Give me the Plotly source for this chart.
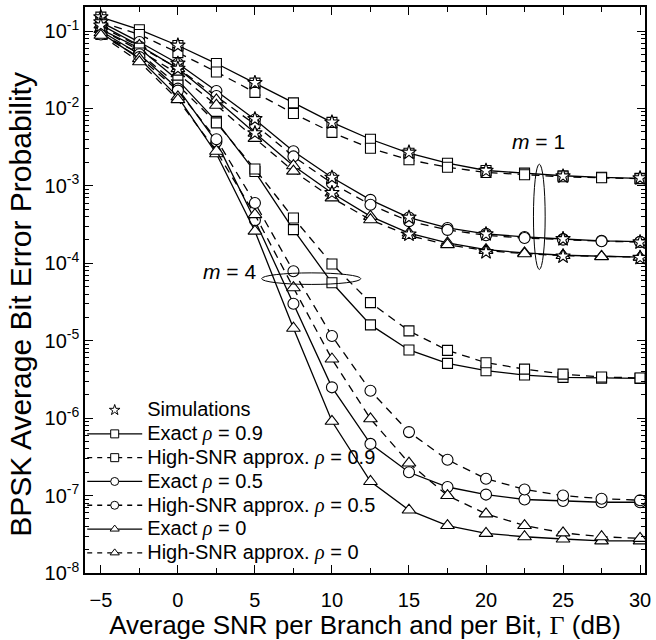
import plotly.graph_objects as go

# ---------------- data ----------------
snr_db = [-5, -2.5, 0, 2.5, 5, 7.5, 10, 12.5, 15, 17.5, 20, 22.5, 25, 27.5, 30]

# m = 1
m1_exact_rho09 = [0.151, 0.104, 0.065, 0.038, 0.0212, 0.0118, 0.0066, 0.0040, 0.00264, 0.00196,
                  0.00158, 0.00146, 0.00135, 0.00129, 0.00125]
m1_approx_rho09 = [0.130, 0.090, 0.0526, 0.0296, 0.0161, 0.0086, 0.0049, 0.00306, 0.00217, 0.00174,
                   0.00149, 0.00139, 0.00131, 0.00127, 0.00124]
m1_exact_rho05 = [0.130, 0.072, 0.038, 0.0168, 0.0072, 0.0028, 0.00128, 0.00066, 0.00039, 0.000286,
                  0.00024, 0.000219, 0.000206, 0.000195, 0.00019]
m1_approx_rho05 = [0.115, 0.063, 0.033, 0.0145, 0.0062, 0.0024, 0.00108, 0.00057, 0.00035, 0.00027,
                   0.00023, 0.000212, 0.000202, 0.000193, 0.000188]
m1_exact_rho0 = [0.120, 0.065, 0.0327, 0.0129, 0.0048, 0.00182, 0.00081, 0.000404, 0.000246, 0.000183,
                 0.00015, 0.000136, 0.000127, 0.000123, 0.00012]
m1_approx_rho0 = [0.105, 0.056, 0.028, 0.011, 0.0041, 0.00155, 0.0007, 0.000365, 0.000228, 0.000174,
                  0.000146, 0.000133, 0.000126, 0.000122, 0.00012]

# m = 4
m4_exact_rho09 = [0.105, 0.060, 0.0232, 0.0068, 0.00153, 0.000272, 5.6e-5, 1.6e-5, 7.6e-6, 5.1e-6,
                  4.1e-6, 3.6e-6, 3.36e-6, 3.29e-6, 3.26e-6]
m4_approx_rho09 = [0.090, 0.052, 0.020, 0.0065, 0.00165, 0.000384, 9.8e-5, 3.1e-5, 1.34e-5, 7.5e-6,
                   5.2e-6, 4.3e-6, 3.7e-6, 3.4e-6, 3.3e-6]
m4_exact_rho05 = [0.100, 0.050, 0.018, 0.0037, 0.00036, 3.0e-5, 2.5e-6, 4.65e-7, 2.0e-7, 1.29e-7,
                  1.03e-7, 8.9e-8, 8.5e-8, 8.2e-8, 8.2e-8]
m4_approx_rho05 = [0.090, 0.046, 0.017, 0.0040, 0.0006, 7.9e-5, 1.15e-5, 2.26e-6, 6.6e-7, 2.9e-7,
                   1.65e-7, 1.2e-7, 1.0e-7, 9.1e-8, 8.7e-8]
m4_exact_rho0 = [0.095, 0.044, 0.0141, 0.0026, 0.00026, 1.45e-5, 9.1e-7, 1.52e-7, 6.5e-8, 4.1e-8,
                 3.25e-8, 2.94e-8, 2.75e-8, 2.6e-8, 2.6e-8]
m4_approx_rho0 = [0.088, 0.040, 0.013, 0.0028, 0.000425, 4.83e-5, 5.8e-6, 9.8e-7, 2.63e-7, 1.0e-7,
                  5.8e-8, 4.1e-8, 3.3e-8, 2.94e-8, 2.8e-8]

# simulations (m = 1)
sim_snr_db = [-5, 0, 5, 10, 15, 20, 25, 30]
sim_m1_rho09 = [0.151, 0.065, 0.0214, 0.0066, 0.0027, 0.00157, 0.00133, 0.00126]
sim_m1_rho05 = [0.130, 0.038, 0.0073, 0.00128, 0.00039, 0.000238, 0.000206, 0.000187]
sim_m1_rho0 = [0.118, 0.0327, 0.0048, 0.00081, 0.000236, 0.000140, 0.000123, 0.000118]

x_tick_vals = [-5, 0, 5, 10, 15, 20, 25, 30]
y_tick_vals = [1e-8, 1e-7, 1e-6, 1e-5, 1e-4, 1e-3, 1e-2, 1e-1]
y_tick_text = ["10<sup>-8</sup>", "10<sup>-7</sup>", "10<sup>-6</sup>", "10<sup>-5</sup>",
               "10<sup>-4</sup>", "10<sup>-3</sup>", "10<sup>-2</sup>", "10<sup>-1</sup>"]

# ---------------- figure ----------------
FONT = "Liberation Sans, Arial, sans-serif"
RHO = "<i><span style=\"font-family:'Liberation Serif'\">ρ</span></i>"
GAMMA = "<span style=\"font-family:'Liberation Serif'\">Γ</span>"


def big(t):
    return f'<span style="font-size:20px">{t}</span>'


fig = go.Figure()

curves = [
    (m1_exact_rho09, "square", "solid"),
    (m1_approx_rho09, "square", "8px,6px"),
    (m1_exact_rho05, "circle", "solid"),
    (m1_approx_rho05, "circle", "8px,6px"),
    (m1_exact_rho0, "triangle-up", "solid"),
    (m1_approx_rho0, "triangle-up", "8px,6px"),
    (m4_exact_rho09, "square", "solid"),
    (m4_approx_rho09, "square", "8px,6px"),
    (m4_exact_rho05, "circle", "solid"),
    (m4_approx_rho05, "circle", "8px,6px"),
    (m4_exact_rho0, "triangle-up", "solid"),
    (m4_approx_rho0, "triangle-up", "8px,6px"),
]
msize = {"square": 10, "circle": 11, "triangle-up": 12}
for vals, sym, dash in curves:
    fig.add_trace(go.Scatter(
        x=snr_db, y=vals, mode="lines+markers", showlegend=False,
        line=dict(color="black", width=1.3, dash=dash),
        marker=dict(symbol=sym, size=msize[sym], color="white",
                    line=dict(color="black", width=1.1)),
    ))

for vals in (sim_m1_rho09, sim_m1_rho05, sim_m1_rho0):
    fig.add_trace(go.Scatter(
        x=sim_snr_db, y=vals, mode="markers", showlegend=False,
        marker=dict(symbol="star", size=11, color="white",
                    line=dict(color="black", width=1.1)),
    ))

# legend-only entries (smaller symbols as in the reference)
legend_items = [
    ("Simulations", "star", None, "markers"),
    (f"Exact {RHO} = 0.9", "square", "solid", "lines+markers"),
    (f"High-SNR approx. {RHO} = 0.9", "square", "5px,5px", "lines+markers"),
    (f"Exact {RHO} = 0.5", "circle", "solid", "lines+markers"),
    (f"High-SNR approx. {RHO} = 0.5", "circle", "5px,5px", "lines+markers"),
    (f"Exact {RHO} = 0", "triangle-up", "solid", "lines+markers"),
    (f"High-SNR approx. {RHO} = 0", "triangle-up", "5px,5px", "lines+markers"),
]
for name, sym, dash, mode in legend_items:
    fig.add_trace(go.Scatter(
        x=[None], y=[None], mode=mode, name=big(name),
        line=dict(color="black", width=1.3, dash=dash or "solid"),
        marker=dict(symbol=sym, size=8, color="white", line=dict(color="black", width=1)),
    ))

# ellipses grouping the curves (data coordinates)
fig.add_shape(type="circle", xref="x", yref="y", x0=23.08, x1=23.84,
              y0=10 ** -4.08, y1=10 ** -2.72, line=dict(color="black", width=1))
fig.add_shape(type="circle", xref="x", yref="y", x0=5.44, x1=11.87,
              y0=10 ** -4.273, y1=10 ** -4.124, line=dict(color="black", width=1))

fig.add_annotation(x=23.4, y=-2.43, xref="x", yref="y", text="<i>m</i> = 1", showarrow=False,
                   font=dict(size=21, color="black", family=FONT))
fig.add_annotation(x=3.35, y=-4.10, xref="x", yref="y", text="<i>m</i> = 4", showarrow=False,
                   font=dict(size=21, color="black", family=FONT))

# y-axis title (placed slightly below the plot centre, as in the reference)
fig.add_annotation(x=-0.115, y=0.475, xref="paper", yref="paper", textangle=-90,
                   xanchor="center", yanchor="middle",
                   text="BPSK Average Bit Error Probability", showarrow=False,
                   font=dict(size=30, color="black", family=FONT))

fig.update_layout(
    width=656, height=640,
    margin=dict(l=85, r=9, t=5, b=67),
    paper_bgcolor="white", plot_bgcolor="white",
    font=dict(family=FONT, color="black", size=20),
    legend=dict(x=-0.005, y=0.005, xanchor="left", yanchor="bottom",
                bgcolor="rgba(0,0,0,0)", borderwidth=0, itemwidth=55,
                font=dict(size=16, family=FONT, color="black"),
                tracegroupgap=0),
)
fig.update_xaxes(
    range=[-6.03, 30.32], tickvals=x_tick_vals, ticks="inside", ticklen=8, tickwidth=1.2,
    tickcolor="black", showline=True, linecolor="black", linewidth=1.5, mirror="allticks",
    showgrid=False, zeroline=False, tickfont=dict(size=20), ticklabelstandoff=8,
    minor=dict(ticks="inside", ticklen=5, tickwidth=1.2, tickcolor="black", dtick=2.5, showgrid=False),
    title=dict(text=f"Average SNR per Branch and per Bit, {GAMMA} (dB)", font=dict(size=26), standoff=1),
)
fig.update_yaxes(
    type="log", range=[-8, -0.69], tickvals=y_tick_vals, ticktext=y_tick_text,
    ticks="inside", ticklen=8, tickwidth=1.2, tickcolor="black",
    showline=True, linecolor="black", linewidth=1.5, mirror="allticks",
    showgrid=False, zeroline=False, tickfont=dict(size=20),
    minor=dict(ticks="inside", ticklen=4, tickwidth=1, tickcolor="black", dtick="D1", showgrid=False),
)

fig.write_html("out.html", config={"displayModeBar": False},
               post_script="document.body.style.margin='0px';")
